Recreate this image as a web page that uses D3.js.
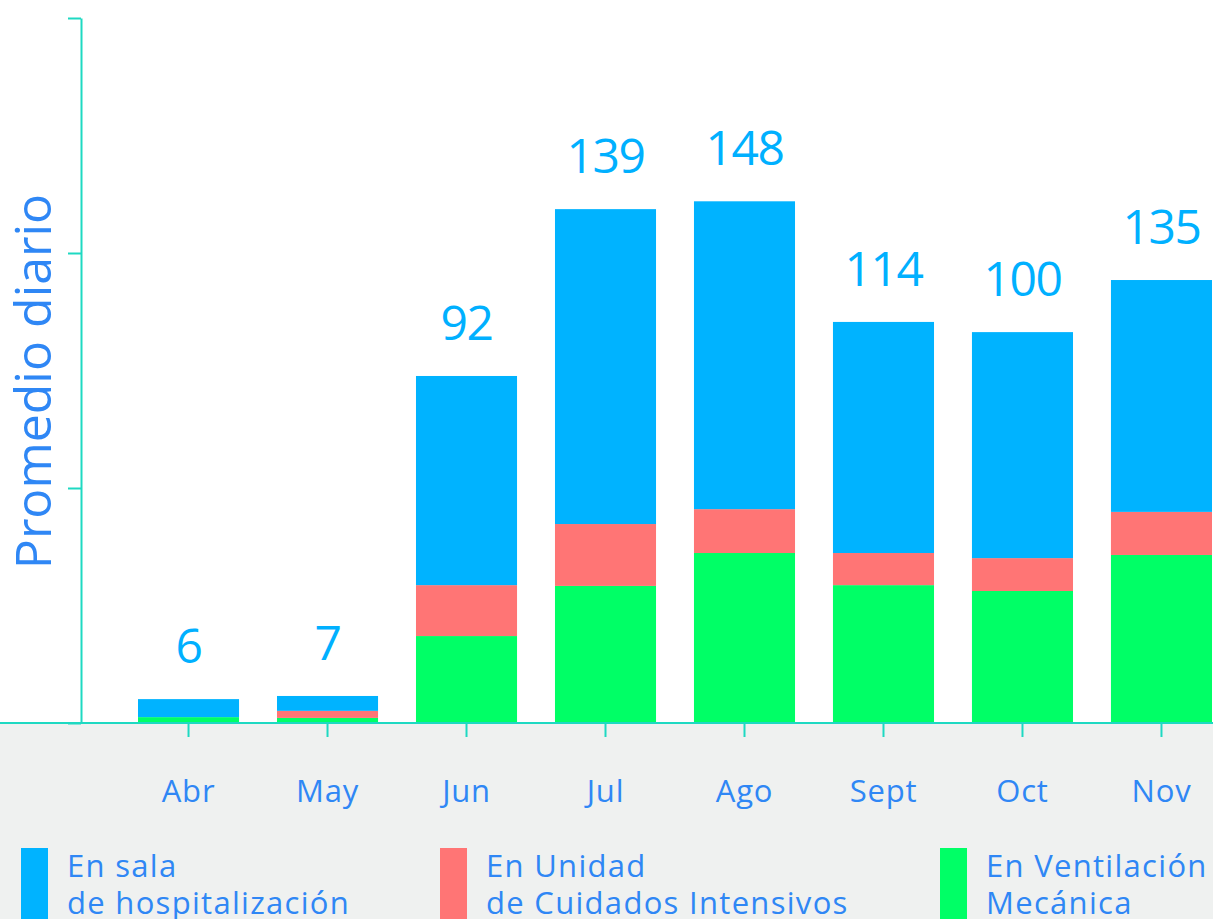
<!DOCTYPE html>
<html>
<head>
<meta charset="utf-8">
<script src="https://cdn.jsdelivr.net/npm/d3@7"></script>
<style>
  html, body { margin: 0; padding: 0; background: #ffffff; }
  svg { display: block; }
  text { font-family: "Open Sans", "Noto Sans", sans-serif; }
</style>
</head>
<body>
<svg id="chart" width="1213" height="919"></svg>
<script>
// ---- data ----
const months = ["Abr", "May", "Jun", "Jul", "Ago", "Sept", "Oct", "Nov"];
const ventilacion = [1.5, 1.3, 22.2, 35.0, 43.4, 35.2, 33.7, 42.9];
const uci = [0, 1.8, 13.0, 15.8, 11.2, 8.2, 8.4, 11.0];
const sala = [4.6, 3.8, 53.4, 80.4, 78.6, 59.0, 57.7, 59.2];
const totals = [6, 7, 92, 139, 148, 114, 100, 135];
const yTicks = [0, 60, 120, 180];
const seriesKeys = ["ventilacion", "uci", "sala"];
const seriesColors = ["#00ff66", "#ff7575", "#00b3ff"];
const legendLabels = [
  ["En sala", "de hospitalización"],
  ["En Unidad", "de Cuidados Intensivos"],
  ["En Ventilación", "Mecánica"]
];
const legendColors = ["#00b3ff", "#ff7575", "#00ff66"];

// ---- setup ----
const W = 1213, H = 919;
const svg = d3.select("#chart");
const axisColor = "#1ed9c2";
const textBlue = "#2f87f5";
const labelBlue = "#00b0ff";
const baseY = 723, topY = 18;

const rows = months.map((m, i) => ({ month: m, ventilacion: ventilacion[i], uci: uci[i], sala: sala[i], total: totals[i] }));

const x = d3.scaleBand().domain(months).range([138, 1212]).paddingInner(0.273).paddingOuter(0);
const y = d3.scaleLinear().domain([0, 180]).range([baseY, topY]);

// gray lower band
svg.append("rect").attr("x", 0).attr("y", baseY).attr("width", W).attr("height", H - baseY).attr("fill", "#eff1f0");

// stacked bars
const stack = d3.stack().keys(seriesKeys)(rows);
svg.append("g").selectAll("g").data(stack).join("g")
  .attr("fill", (d, i) => seriesColors[i])
  .selectAll("rect").data(d => d).join("rect")
  .attr("x", d => x(d.data.month))
  .attr("width", x.bandwidth())
  .attr("y", d => y(d[1]))
  .attr("height", d => y(d[0]) - y(d[1]));

// total labels
svg.append("g").selectAll("text").data(rows).join("text")
  .attr("x", d => x(d.month) + x.bandwidth() / 2)
  .attr("y", d => y(d.ventilacion + d.uci + d.sala) - 36)
  .attr("text-anchor", "middle")
  .attr("fill", labelBlue)
  .attr("font-size", 48)
  .attr("letter-spacing", -1.5)
  .text(d => d.total);

// horizontal axis line across the whole width
svg.append("line").attr("x1", 0).attr("x2", W).attr("y1", baseY).attr("y2", baseY)
  .attr("stroke", axisColor).attr("stroke-width", 2);

// x axis ticks + labels
const xAxis = d3.axisBottom(x).tickSize(14).tickPadding(43).tickSizeOuter(0);
const gx = svg.append("g").attr("transform", `translate(0,${baseY})`).call(xAxis);
gx.select(".domain").remove();
gx.selectAll(".tick line").attr("stroke", axisColor).attr("stroke-width", 2);
gx.selectAll(".tick text").attr("fill", textBlue).attr("font-size", 31)
  .attr("letter-spacing", 0.8)
  .attr("font-family", "'Open Sans', sans-serif").attr("dy", "0.71em");

// y axis
const yAxis = d3.axisLeft(y).tickValues(yTicks).tickSize(13).tickSizeOuter(0).tickFormat("");
const gy = svg.append("g").attr("transform", "translate(81,0)").call(yAxis);
gy.select(".domain").attr("stroke", axisColor).attr("stroke-width", 2);
gy.selectAll(".tick line").attr("stroke", axisColor).attr("stroke-width", 2);

// y title
svg.append("text")
  .attr("transform", `translate(51,${(193 + 570) / 2}) rotate(-90)`)
  .attr("text-anchor", "middle")
  .attr("fill", textBlue)
  .attr("font-size", 50)
  .text("Promedio diario");

// legend
const legendX = [21, 440, 940];
const lg = svg.append("g").selectAll("g").data(legendLabels).join("g")
  .attr("transform", (d, i) => `translate(${legendX[i]},848)`);
lg.append("rect").attr("x", 0).attr("y", 0).attr("width", 27).attr("height", 80)
  .attr("fill", (d, i) => legendColors[i]);
lg.each(function (d) {
  const t = d3.select(this).append("text").attr("fill", textBlue).attr("font-size", 31)
    .attr("letter-spacing", 1.3);
  d.forEach((line, j) => {
    t.append("tspan").attr("x", 46).attr("y", 29 + j * 37).text(line);
  });
});
</script>
</body>
</html>
